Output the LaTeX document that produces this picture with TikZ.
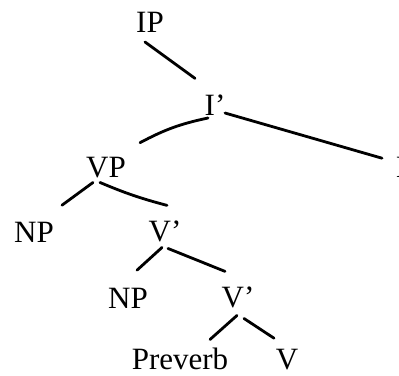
\documentclass[tikz,border=0pt]{standalone}
\usepackage{fontspec}
\setmainfont{Liberation Serif}
\usepackage{tikz}
\usetikzlibrary{positioning, calc}

\begin{document}
\begin{tikzpicture}[
        x=1pt, y=-1pt,
        cat/.style={inner sep=0pt, outer sep=0pt, anchor=base, font=\fontsize{31}{36}\selectfont},
        br/.style={line width=2.8pt, line cap=round, black}
    ]
    \useasboundingbox (0,0) rectangle (399,375);

    \node[cat] (ip) at (150, 32) {IP};
    \node[cat] (ibar) at (215, 115) {I'};
    \node[cat] (vp) at (106, 177) {VP};
    \node[cat] (infl) at (401, 177) {I};
    \node[cat] (np1) at (34, 242) {NP};
    \node[cat] (vbar1) at (165, 241) {V'};
    \node[cat] (np2) at (128, 308) {NP};
    \node[cat] (vbar2) at (238, 307) {V'};
    \node[cat] (prev) at (180, 369) {Preverb};
    \node[cat] (verb) at (287, 369) {V};

    \draw[br] ([xshift=-5pt, yshift=-10pt]ip.south) -- ([xshift=-20pt, yshift=16pt]ibar.north);
    \draw[br] ([xshift=-7pt, yshift=-3pt]ibar.south) to[bend right=8] ([xshift=34pt, yshift=14pt]vp.north);
    \draw[br] ([xshift=10pt, yshift=2pt]ibar.south) -- ([xshift=-19pt, yshift=-1.5pt]infl.north);
    \draw[br] ([xshift=-13pt, yshift=-5pt]vp.south) -- ([xshift=28pt, yshift=16.5pt]np1.north);
    \draw[br] ([xshift=-6pt, yshift=-5pt]vp.south) to[bend right=4] ([xshift=2pt, yshift=15pt]vbar1.north);
    \draw[br] ([xshift=-3pt, yshift=-6pt]vbar1.south) -- ([xshift=9pt, yshift=17.5pt]np2.north);
    \draw[br] ([xshift=3pt, yshift=-7pt]vbar1.south) -- ([xshift=-13pt, yshift=15pt]vbar2.north);
    \draw[br] ([xshift=-1pt, yshift=-8pt]vbar2.south) -- ([xshift=30pt, yshift=8pt]prev.north);
    \draw[br] ([xshift=6pt, yshift=-11pt]vbar2.south) -- ([xshift=-13pt, yshift=10.5pt]verb.north);
\end{tikzpicture}
\end{document}
